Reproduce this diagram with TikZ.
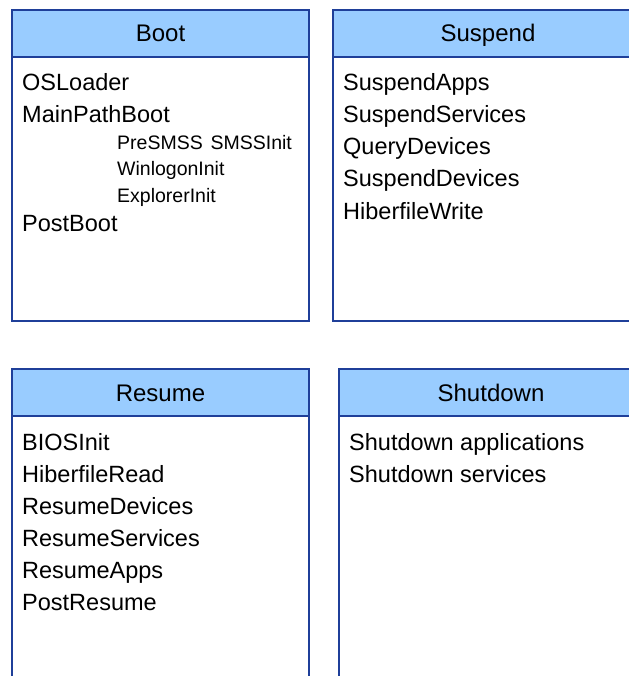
\documentclass[tikz,border=0pt]{standalone}
\usepackage{fontspec}
\setmainfont{Liberation Sans}
\definecolor{headblue}{HTML}{99CCFF}
\definecolor{edgeblue}{HTML}{1F3F99}

\begin{document}
\begin{tikzpicture}[x=1pt,y=-1pt,
  head/.style={draw=edgeblue,line width=1.3pt,fill=headblue,
        minimum width=297pt,minimum height=47pt,
        inner sep=0pt,outer sep=0pt,anchor=north west,
        text height=17pt,text depth=0pt,font=\fontsize{24}{28}\selectfont},
  body/.style={draw=edgeblue,line width=1.3pt,minimum width=297pt,
        inner sep=0pt,outer sep=0pt,anchor=north},
  item/.style={anchor=base west,inner sep=0pt,font=\fontsize{23.5}{28}\selectfont},
  subitem/.style={anchor=base west,inner sep=0pt,font=\fontsize{19.5}{24}\selectfont}]
  \useasboundingbox (0,0) rectangle (628,676);

  % Boot
  \node[head] (boot) at (12,10) {Boot};
  \node[body,minimum height=264pt] (bootbody) at (boot.south) {};
  \node[item] (osloader) at (22,91) {OSLoader};
  \node[item] (mainpath) at (22,123) {MainPathBoot};
  \node[subitem] (presmss) at (117,150) {PreSMSS\hspace{0.4em}SMSSInit};
  \node[subitem] (winlogon) at (117,176) {WinlogonInit};
  \node[subitem] (explorer) at (117,202) {ExplorerInit};
  \node[item] (postboot) at (22,231) {PostBoot};

  % Suspend
  \node[head,minimum width=310pt] (suspend) at (333,10) {Suspend};
  \node[body,minimum width=310pt,minimum height=264pt] (suspendbody) at (suspend.south) {};
  \node[item] (suspapps) at (343,91) {SuspendApps};
  \node[item] (suspsvc) at (343,123) {SuspendServices};
  \node[item] (querydev) at (343,155) {QueryDevices};
  \node[item] (suspdev) at (343,187) {SuspendDevices};
  \node[item] (hibwrite) at (343,219) {HiberfileWrite};

  % Resume
  \node[head] (resume) at (12,369) {Resume};
  \node[body,minimum height=280pt] (resumebody) at (resume.south) {};
  \node[item] (biosinit) at (22,450) {BIOSInit};
  \node[item] (hibread) at (22,482) {HiberfileRead};
  \node[item] (resdev) at (22,514) {ResumeDevices};
  \node[item] (ressvc) at (22,546) {ResumeServices};
  \node[item] (resapps) at (22,578) {ResumeApps};
  \node[item] (postres) at (22,610) {PostResume};

  % Shutdown
  \node[head,minimum width=304pt] (shutdown) at (339,369) {Shutdown};
  \node[body,minimum width=304pt,minimum height=280pt] (shutdownbody) at (shutdown.south) {};
  \node[item] (shutapps) at (349,450) {Shutdown applications};
  \node[item] (shutsvc) at (349,482) {Shutdown services};
\end{tikzpicture}
\end{document}
